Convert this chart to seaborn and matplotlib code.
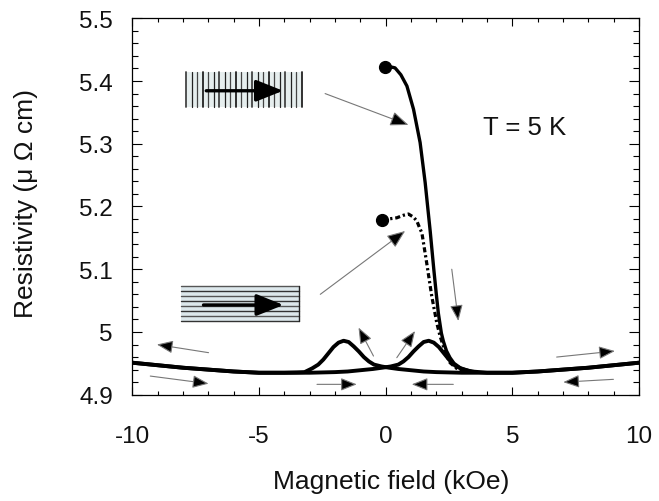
import numpy as np
import pandas as pd
import matplotlib
matplotlib.use("Agg")
import matplotlib.pyplot as plt
import seaborn as sns
from matplotlib.patches import Rectangle
from matplotlib.ticker import MultipleLocator, FuncFormatter

# ---------------- data ----------------
# Upper curve (vertical-stripe state), starting from the dot at H = 0
field_solid = [-0.02, 0.15, 0.37, 0.6, 0.84, 1.1, 1.36, 1.56, 1.76, 1.9, 2.0, 2.08,
               2.2, 2.28, 2.4, 2.54, 2.7, 2.94, 3.3, 3.6]
rho_solid = [5.423, 5.423, 5.421, 5.410, 5.392, 5.355, 5.302, 5.238, 5.160, 5.100,
             5.060, 5.030, 4.998, 4.985, 4.970, 4.959, 4.950, 4.943, 4.938, 4.936]

# Dotted curve (horizontal-stripe state)
field_dot = [-0.13, 0.1, 0.44, 0.7, 0.9, 1.1, 1.23, 1.35, 1.43, 1.62, 1.82, 2.02,
             2.15, 2.28, 2.4, 2.54, 2.8, 3.1]
rho_dot = [5.178, 5.180, 5.182, 5.186, 5.188, 5.183, 5.177, 5.165, 5.158, 5.110,
           5.057, 5.014, 4.993, 4.977, 4.963, 4.951, 4.942, 4.937]

# Hysteresis loop branches at low resistivity
field_down = [-10, -9, -8, -7, -6, -5, -4, -3.5, -3.2, -2.9, -2.66, -2.46, -2.26, -2.06,
              -1.86, -1.66, -1.46, -1.26, -1.06, -0.86, -0.66, -0.46, -0.16, 0.14, 0.5,
              1.0, 1.5, 2, 3, 4, 5, 6, 7, 8, 9, 10]
rho_down = [4.951, 4.947, 4.943, 4.940, 4.937, 4.935, 4.935, 4.9355, 4.936, 4.942,
            4.948, 4.956, 4.966, 4.976, 4.983, 4.986, 4.984, 4.977, 4.969, 4.960,
            4.953, 4.948, 4.945, 4.943, 4.941, 4.939, 4.937, 4.936, 4.935, 4.935,
            4.935, 4.937, 4.940, 4.943, 4.947, 4.951]

field_up = [-10, -9, -8, -7, -6, -5, -4, -3, -2, -1.5, -1.0, -0.5, -0.14, 0.2, 0.5,
            0.7, 0.9, 1.1, 1.3, 1.5, 1.7, 1.9, 2.1, 2.3, 2.5, 2.75, 3.0, 3.4, 4, 5, 6,
            7, 8, 9, 10]
rho_up = [4.951, 4.947, 4.943, 4.940, 4.937, 4.935, 4.935, 4.935, 4.936, 4.937,
          4.939, 4.941, 4.943, 4.945, 4.948, 4.953, 4.960, 4.969, 4.977, 4.984,
          4.986, 4.983, 4.976, 4.966, 4.956, 4.946, 4.941, 4.937, 4.935, 4.935,
          4.937, 4.940, 4.943, 4.947, 4.951]

x_ticks = [-10, -5, 0, 5, 10]
y_ticks = [4.9, 5.0, 5.1, 5.2, 5.3, 5.4, 5.5]
temp_label = "T = 5 K"

# ---------------- style ----------------
sns.set_theme(style="ticks")
plt.rcParams['font.family'] = ['Liberation Sans', 'DejaVu Sans']
plt.rcParams['axes.linewidth'] = 0.9

fig = plt.figure(figsize=(6.59, 5.02), dpi=100)
ax = fig.add_axes([132.3 / 659, 1 - 395.7 / 502, 506.7 / 659, 376.4 / 502])

lw_base = 2.8
sns.lineplot(x=field_down, y=rho_down, ax=ax, color="black", lw=lw_base, sort=False,
             estimator=None)
sns.lineplot(x=field_up, y=rho_up, ax=ax, color="black", lw=lw_base, sort=False,
             estimator=None)
sns.lineplot(x=field_solid, y=rho_solid, ax=ax, color="black", lw=2.4, sort=False,
             estimator=None)
sns.lineplot(x=field_dot, y=rho_dot, ax=ax, color="black", lw=2.3, sort=False,
             estimator=None, linestyle=(0, (1.6, 0.9, 0.7, 0.9)))
ax.plot([field_solid[0]], [rho_solid[0]], 'o', color="black", ms=8.5, zorder=5)
ax.plot([field_dot[0]], [rho_dot[0]], 'o', color="black", ms=8.5, zorder=5)

ax.set_xlim(-10, 10)
ax.set_ylim(4.9, 5.5)
ax.set_xticks(x_ticks)
ax.set_yticks(y_ticks)
ax.xaxis.set_minor_locator(MultipleLocator(1))
ax.yaxis.set_minor_locator(MultipleLocator(0.02))
ax.yaxis.set_major_formatter(FuncFormatter(lambda v, p: f"{v:g}"))
ax.xaxis.set_major_formatter(FuncFormatter(lambda v, p: f"{v:g}"))
ax.tick_params(which="both", direction="in", top=True, right=True, color="black",
               width=0.8)
ax.tick_params(axis="x", which="major", length=6, pad=22, labelsize=17.5,
               labelcolor="#111111")
ax.tick_params(axis="x", which="minor", length=3)
ax.tick_params(axis="y", which="major", length=7.5, pad=14, labelsize=17.5,
               labelcolor="#111111")
ax.tick_params(axis="y", which="minor", length=4)
for s in ax.spines.values():
    s.set_color("black")
    s.set_linewidth(0.9)

ax.set_xlabel("Magnetic field (kOe)", fontsize=19, color="#111111")
ax.set_ylabel("Resistivity (μ Ω cm)", fontsize=19, color="#111111", va="center")
ax.xaxis.set_label_coords(0.51, -0.198)
ax.yaxis.set_label_coords(-0.21, 0.51)

ax.text(3.85, 5.327, temp_label, fontsize=18.5, va="center", ha="left", color="#111111")

# ---------------- annotations ----------------
def thin_arrow(tail, tip, ms=14):
    ax.annotate("", xy=tip, xytext=tail,
                arrowprops=dict(arrowstyle="-|>,head_length=0.7,head_width=0.28",
                                ec="#777777", fc="black", lw=0.8,
                                mutation_scale=ms, shrinkA=0, shrinkB=0))

thin_arrow((-2.39, 5.380), (0.90, 5.330), ms=16)
thin_arrow((-2.58, 5.060), (0.77, 5.161), ms=16)
thin_arrow((-6.99, 4.967), (-9.03, 4.980))
thin_arrow((-9.29, 4.9297), (-6.99, 4.9176))
thin_arrow((-2.71, 4.9165), (-1.14, 4.9165))
thin_arrow((2.67, 4.9165), (1.03, 4.9165))
thin_arrow((-0.48, 4.9616), (-1.07, 5.007))
thin_arrow((0.44, 4.959), (1.16, 5.0015))
thin_arrow((2.61, 5.100), (2.87, 5.0175))
thin_arrow((6.75, 4.960), (9.05, 4.9696))
thin_arrow((8.99, 4.9245), (7.01, 4.920))

# vertical-stripe box
vx0, vx1, vy0, vy1 = -7.87, -3.31, 5.358, 5.415
ax.add_patch(Rectangle((vx0, vy0), vx1 - vx0, vy1 - vy0, facecolor="#e6eeee",
                       edgecolor="none", zorder=2))
for i, xv in enumerate(np.linspace(vx0, vx1, 22)):
    ax.plot([xv, xv], [vy0, vy1], color="#222222" if i % 2 else "#444444",
            lw=1.3 if i % 3 == 0 else 0.9, zorder=3)
ax.annotate("", xy=(-4.05, 5.3845), xytext=(-7.08, 5.3845), zorder=4,
            arrowprops=dict(arrowstyle="-|>,head_length=0.75,head_width=0.3",
                            color="black", lw=2.4, mutation_scale=22,
                            shrinkA=0, shrinkB=0))

# horizontal-stripe box
hx0, hx1, hy0, hy1 = -8.07, -3.41, 5.0175, 5.073
ax.add_patch(Rectangle((hx0, hy0), hx1 - hx0, hy1 - hy0, facecolor="#dde8ec",
                       edgecolor="none", zorder=2))
for i, yv in enumerate(np.linspace(hy1, hy0, 8)):
    ax.plot([hx0, hx1], [yv, yv], color="#333333" if i % 2 else "#555555",
            lw=1.0, zorder=3)
ax.plot([hx1, hx1], [hy0, hy1], color="#222222", lw=1.0, zorder=3)
ax.annotate("", xy=(-4.03, 5.043), xytext=(-7.19, 5.043), zorder=4,
            arrowprops=dict(arrowstyle="-|>,head_length=0.75,head_width=0.3",
                            color="black", lw=2.4, mutation_scale=22,
                            shrinkA=0, shrinkB=0))

fig.savefig("out.png", dpi=100)
